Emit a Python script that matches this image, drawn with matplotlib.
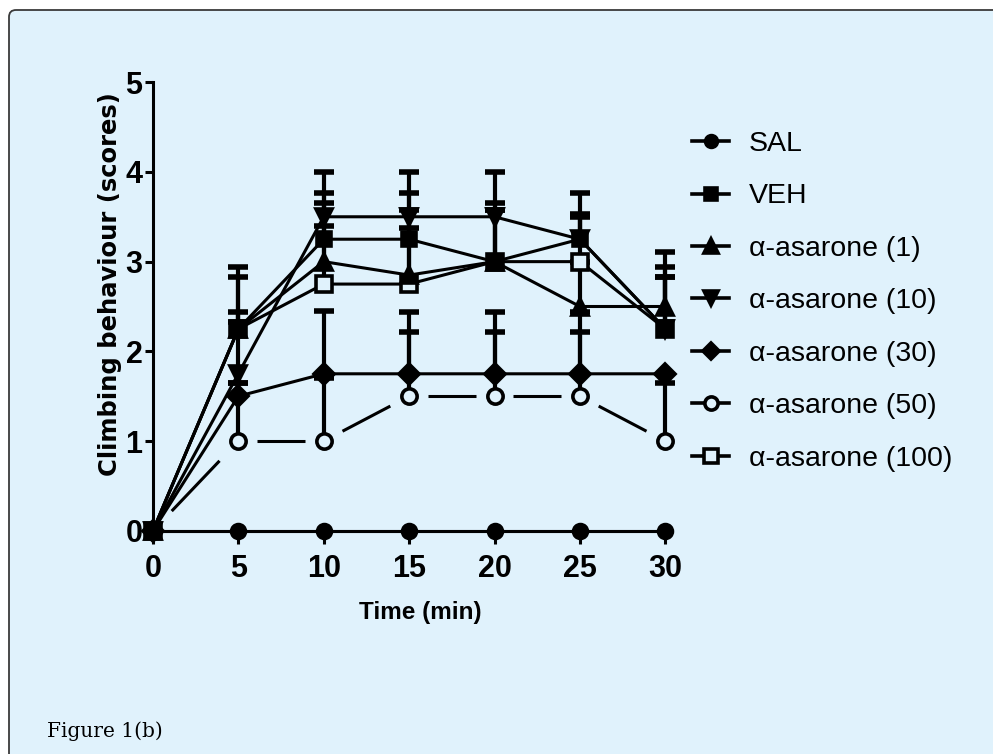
import numpy as np
import matplotlib
matplotlib.use("Agg")
import matplotlib.pyplot as plt
from matplotlib.lines import Line2D
from matplotlib.patches import FancyBboxPatch
from matplotlib.transforms import IdentityTransform

# ------------------- Data -------------------
time_min = [0, 5, 10, 15, 20, 25, 30]

series_names = ["SAL", "VEH", "\u03b1-asarone (1)", "\u03b1-asarone (10)",
                "\u03b1-asarone (30)", "\u03b1-asarone (50)", "\u03b1-asarone (100)"]

sal = [0, 0, 0, 0, 0, 0, 0]
veh = [0, 2.25, 3.25, 3.25, 3.0, 3.25, 2.25]
asa_1 = [0, 2.25, 3.0, 2.85, 3.0, 2.5, 2.5]
asa_10 = [0, 1.75, 3.5, 3.5, 3.5, 3.25, 2.25]
asa_30 = [0, 1.5, 1.75, 1.75, 1.75, 1.75, 1.75]
asa_50 = [0, 1.0, 1.0, 1.5, 1.5, 1.5, 1.0]
asa_100 = [0, 2.25, 2.75, 2.75, 3.0, 3.0, 2.25]

# upper error bars (SEM)
sal_err = [0, 0, 0, 0, 0, 0, 0]
veh_err = [0, 0.69, 0.52, 0.52, 0.65, 0.51, 0.69]
asa_1_err = [0, 0.19, 0.65, 0.73, 0.58, 0.5, 0.61]
asa_10_err = [0, 0.58, 0.5, 0.5, 0.5, 0.28, 0.58]
asa_30_err = [0, 0.15, 0.7, 0.69, 0.69, 0.69, 0]
asa_50_err = [0, 0.65, 0.7, 0.72, 0.72, 0.72, 0.65]
asa_100_err = [0, 0.58, 0.65, 0.63, 0.58, 0.5, 0.58]

means = [sal, veh, asa_1, asa_10, asa_30, asa_50, asa_100]
errors = [sal_err, veh_err, asa_1_err, asa_10_err, asa_30_err, asa_50_err, asa_100_err]
markers = ["o", "s", "^", "v", "D", "o", "s"]
open_marker = [False, False, False, False, False, True, True]
dashed = [False, False, False, False, False, True, False]

# ------------------- Style -------------------
bg = "#E0F2FC"
sans = ["Liberation Sans", "DejaVu Sans"]
lw = 2.2
msizes = [10, 10, 11, 11, 10, 11, 11]

fig = plt.figure(figsize=(9.93, 7.54), dpi=100)
fig.patch.set_facecolor("white")

# panel with rounded top-left corner
panel = FancyBboxPatch((9, -30), 1100, 744 + 30, boxstyle="round,pad=0,rounding_size=7",
                       transform=IdentityTransform(), facecolor=bg, edgecolor="#3a3a3a",
                       linewidth=1.3, zorder=-10)
fig.patches.append(panel)

ax = fig.add_axes([0.154, 0.296, 0.516, 0.595])
ax.set_facecolor("none")

t = np.array(time_min, dtype=float)

# error bars drawn upward only
for m, e in zip(means, errors):
    m = np.array(m, dtype=float)
    e = np.array(e, dtype=float)
    keep = e > 0
    ax.vlines(t[keep], m[keep], m[keep] + e[keep], color="black", lw=3, zorder=2, clip_on=False)
    ax.plot(t[keep], m[keep] + e[keep], linestyle="none", marker="_", markersize=14,
            mew=4, color="black", zorder=2, clip_on=False)

handles = []
n = len(means)
for i, (m, mk) in enumerate(zip(means, markers)):
    mfc = bg if open_marker[i] else "black"
    m = np.array(m, dtype=float)
    z = 4 + (n - i) * 0.1  # first data set sits on top
    if dashed[i]:
        # dashed connector: one centred dash between neighbouring points
        for k in range(len(t) - 1):
            x0, x1 = t[k], t[k + 1]
            y0, y1 = m[k], m[k + 1]
            ax.plot([x0 + 0.22 * (x1 - x0), x0 + 0.78 * (x1 - x0)],
                    [y0 + 0.22 * (y1 - y0), y0 + 0.78 * (y1 - y0)],
                    color="black", lw=lw, zorder=z, solid_capstyle="butt")
        ax.plot(t, m, linestyle="none", marker=mk, markersize=msizes[i], mfc=mfc,
                mec="black", mew=2.6, zorder=z, clip_on=False)
    else:
        ax.plot(t, m, color="black", lw=lw, marker=mk, markersize=msizes[i], mfc=mfc,
                mec="black", mew=2.6, zorder=z, clip_on=False)
    handles.append(Line2D([], [], color="black", lw=2.6, marker=mk, markersize=msizes[i] - 1.5,
                          mfc=mfc, mec="black", mew=2.6, label=series_names[i]))

ax.set_xlim(0, 30)
ax.set_ylim(0, 5)
ax.set_xticks(time_min)
ax.set_yticks([0, 1, 2, 3, 4, 5])
for s in ["top", "right"]:
    ax.spines[s].set_visible(False)
ax.spines["left"].set_linewidth(2.2)
ax.spines["bottom"].set_linewidth(2.2)
ax.tick_params(axis="y", length=6, width=2.2, pad=1.5)
ax.tick_params(axis="x", length=9, width=2.2, pad=8)
for lab in ax.get_xticklabels() + ax.get_yticklabels():
    lab.set_fontfamily(sans)
    lab.set_fontweight("bold")
    lab.set_fontsize(22)

fig.text(420 / 993, 1 - 612 / 754, "Time (min)", family=sans, fontweight="bold",
         fontsize=17.5, ha="center", va="center")
fig.text(110 / 993, 1 - 284 / 754, "Climbing behaviour (scores)", family="DejaVu Sans",
         fontweight="bold", fontsize=17.5, rotation=90, ha="center", va="center")

leg = fig.legend(handles=handles, loc="upper left", bbox_to_anchor=(692 / 993, 1 - 131 / 754),
                 frameon=False, prop={"family": sans, "size": 20.5}, handlelength=1.3,
                 handletextpad=0.7, labelspacing=0.93, borderpad=0, borderaxespad=0)

fig.text(47 / 993, 1 - 737 / 754, "Figure 1(b)", family="DejaVu Serif", fontsize=14.5,
         ha="left", va="baseline")

fig.savefig("out.png", dpi=100, facecolor=fig.get_facecolor())
